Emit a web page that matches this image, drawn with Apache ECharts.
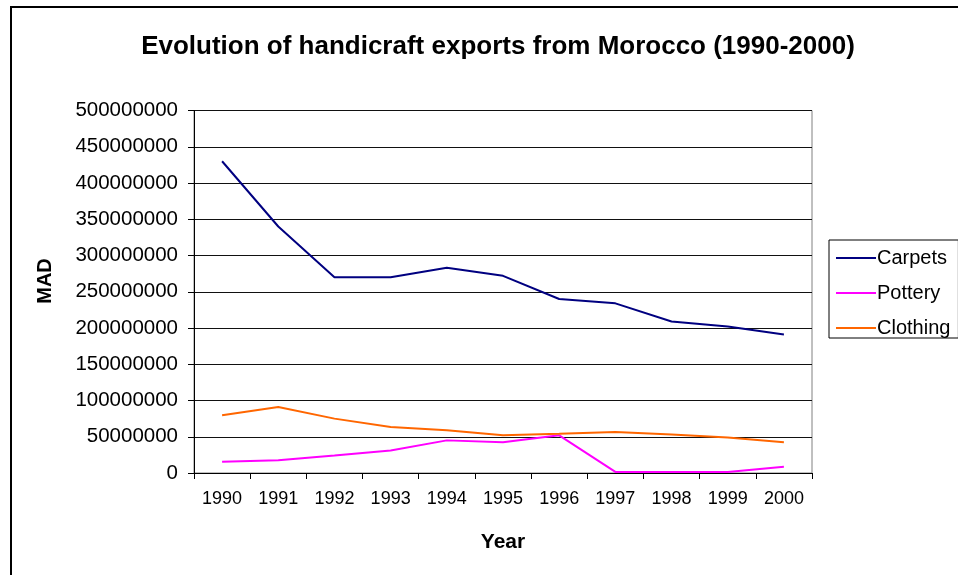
<!DOCTYPE html>
<html>
<head>
<meta charset="utf-8">
<script src="https://cdn.jsdelivr.net/npm/echarts@6/dist/echarts.min.js"></script>
<style>html,body{margin:0;padding:0;background:#fff;}#c{width:958px;height:575px;}</style>
</head>
<body>
<div id="c"></div>
<script>
const years = ['1990','1991','1992','1993','1994','1995','1996','1997','1998','1999','2000'];
const carpets = [430000000, 340000000, 270000000, 270000000, 283000000, 272000000, 240000000, 234000000, 209000000, 202000000, 191000000];
const pottery = [15500000, 17500000, 24000000, 31000000, 45000000, 42500000, 52000000, 1500000, 1500000, 1500000, 8500000];
const clothing = [79500000, 91000000, 75000000, 63500000, 59000000, 52000000, 54000000, 56500000, 53000000, 49000000, 42500000];

const chart = echarts.init(document.getElementById('c'), null, {renderer: 'canvas'});
const font = 'Liberation Sans, Arial, sans-serif';
chart.setOption({
  animation: false,
  backgroundColor: '#fff',
  title: {
    text: 'Evolution of handicraft exports from Morocco (1990-2000)',
    left: 493, top: 29, textAlign: 'center',
    textStyle: {fontFamily: font, fontSize: 26, fontWeight: 'bold', color: '#000'}
  },
  graphic: [{
    type: 'rect', shape: {x: 11, y: 7, width: 1000, height: 700},
    style: {fill: 'none', stroke: '#000', lineWidth: 2}, silent: true, z: 100
  }, {
    type: 'text', x: 45, y: 281, rotation: Math.PI / 2,
    style: {text: 'MAD', font: 'bold 20px Liberation Sans, Arial, sans-serif', fill: '#000', textAlign: 'center', textVerticalAlign: 'middle'},
    silent: true
  }],
  legend: {
    orient: 'vertical', left: 829, top: 240,
    padding: [8, 8, 0, 7], itemGap: 15, itemWidth: 40, itemHeight: 2,
    icon: 'rect',
    borderColor: '#000', borderWidth: 1, borderRadius: 0,
    textStyle: {fontFamily: font, fontSize: 20, color: '#000', padding: [0, 0, 0, -4]},
    data: ['Carpets', 'Pottery', 'Clothing']
  },
  grid: {left: 194, right: 146, top: 110.5, bottom: 102, show: true, borderColor: '#808080', borderWidth: 1, containLabel: false},
  xAxis: {
    type: 'category', data: years, boundaryGap: true,
    name: 'Year', nameLocation: 'middle', nameGap: 59,
    nameTextStyle: {fontFamily: font, fontSize: 21, fontWeight: 'bold', color: '#000'},
    axisLine: {lineStyle: {color: '#000', width: 1}},
    axisTick: {show: true, length: 6, lineStyle: {color: '#000'}},
    axisLabel: {fontFamily: font, fontSize: 18, color: '#000', margin: 17, interval: 0}
  },
  yAxis: {
    type: 'value', min: 0, max: 500000000, interval: 50000000,
    axisLine: {show: true, lineStyle: {color: '#000', width: 1}},
    axisTick: {show: true, length: 6, lineStyle: {color: '#000'}},
    axisLabel: {fontFamily: font, fontSize: 20.5, color: '#000', margin: 16, formatter: function (v) { return String(v); }},
    splitLine: {show: true, lineStyle: {color: '#111', width: 1}}
  },
  series: [
    {name: 'Carpets', type: 'line', data: carpets, symbol: 'none', lineStyle: {color: '#000080', width: 2}, itemStyle: {color: '#000080'}},
    {name: 'Pottery', type: 'line', data: pottery, symbol: 'none', lineStyle: {color: '#FF00FF', width: 2}, itemStyle: {color: '#FF00FF'}},
    {name: 'Clothing', type: 'line', data: clothing, symbol: 'none', lineStyle: {color: '#FF6600', width: 2}, itemStyle: {color: '#FF6600'}}
  ]
});
</script>
</body>
</html>
